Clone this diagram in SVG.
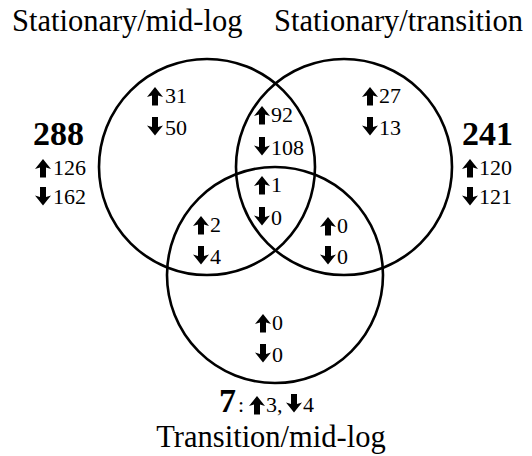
<svg xmlns="http://www.w3.org/2000/svg" xmlns:xlink="http://www.w3.org/1999/xlink" width="532" height="456" viewBox="0 0 532 456">
  <style>
    .set { fill: none; stroke: #000; stroke-width: 2.6; }
    .title { font-family: 'Liberation Serif', 'Times New Roman', Times, serif; font-weight: 400; font-size: 30.5px; fill: #000; }
    .num { font-family: 'Liberation Serif', 'Times New Roman', Times, serif; font-weight: 400; font-size: 22px; fill: #000; }
    .total { font-family: 'Liberation Serif', 'Times New Roman', Times, serif; font-size: 34px; font-weight: 700; fill: #000; }
  </style>
  <defs>
    <!-- solid up / down arrows used before each count -->
    <path id="up" d="M8,0 L16,10 L11,8.6 L11,18.5 L5,18.5 L5,8.6 L0,10 Z" fill="#000"/>
    <path id="down" d="M8,18.5 L16,8.5 L11,9.9 L11,0 L5,0 L5,9.9 L0,8.5 Z" fill="#000"/>
  </defs>
  <rect width="532" height="456" fill="#fff"/>

  <!-- set outlines -->
  <g id="set-stationary-midlog">
    <circle class="set" cx="207" cy="167" r="108"/>
    <text class="title" x="12" y="31">Stationary/mid-log</text>
    <text class="total" x="33" y="145">288</text>
    <use xlink:href="#up" x="35" y="159"/><text class="num" x="53" y="175">126</text>
    <use xlink:href="#down" x="35" y="187"/><text class="num" x="53" y="204">162</text>
  </g>
  <g id="set-stationary-transition">
    <circle class="set" cx="344" cy="167" r="108"/>
    <text class="title" x="274" y="31">Stationary/transition</text>
    <text class="total" x="462" y="145">241</text>
    <use xlink:href="#up" x="462" y="159"/><text class="num" x="479" y="175">120</text>
    <use xlink:href="#down" x="462" y="187"/><text class="num" x="479" y="204">121</text>
  </g>
  <g id="set-transition-midlog">
    <circle class="set" cx="275" cy="275" r="108"/>
    <text class="title" x="271" y="447" text-anchor="middle">Transition/mid-log</text>
    <text class="total" x="219" y="412">7</text>
    <text class="num" x="238" y="412">:</text>
    <use xlink:href="#up" x="249" y="396"/><text class="num" x="266" y="412">3,</text>
    <use xlink:href="#down" x="286" y="394"/><text class="num" x="303" y="412">4</text>
  </g>

  <!-- region counts -->
  <g id="region-midlog-only">
    <use xlink:href="#up" x="147" y="87"/><text class="num" x="165" y="103">31</text>
    <use xlink:href="#down" x="147" y="117"/><text class="num" x="165" y="135">50</text>
  </g>
  <g id="region-transition-only">
    <use xlink:href="#up" x="362" y="87"/><text class="num" x="379" y="103">27</text>
    <use xlink:href="#down" x="362" y="117"/><text class="num" x="379" y="135">13</text>
  </g>
  <g id="region-stationary-pair">
    <use xlink:href="#up" x="254" y="106"/><text class="num" x="271" y="122">92</text>
    <use xlink:href="#down" x="254" y="137"/><text class="num" x="271" y="155">108</text>
  </g>
  <g id="region-all-three">
    <use xlink:href="#up" x="254" y="176"/><text class="num" x="271" y="192">1</text>
    <use xlink:href="#down" x="254" y="207"/><text class="num" x="271" y="225">0</text>
  </g>
  <g id="region-midlog-pair">
    <use xlink:href="#up" x="193" y="216"/><text class="num" x="210" y="232">2</text>
    <use xlink:href="#down" x="193" y="246"/><text class="num" x="210" y="264">4</text>
  </g>
  <g id="region-transition-pair">
    <use xlink:href="#up" x="320" y="217"/><text class="num" x="337" y="233">0</text>
    <use xlink:href="#down" x="320" y="246"/><text class="num" x="337" y="264">0</text>
  </g>
  <g id="region-transition-midlog-only">
    <use xlink:href="#up" x="255" y="314"/><text class="num" x="272" y="330">0</text>
    <use xlink:href="#down" x="255" y="344"/><text class="num" x="272" y="362">0</text>
  </g>

  <!-- no connectors in this diagram -->
  <g id="connectors"/>
</svg>
